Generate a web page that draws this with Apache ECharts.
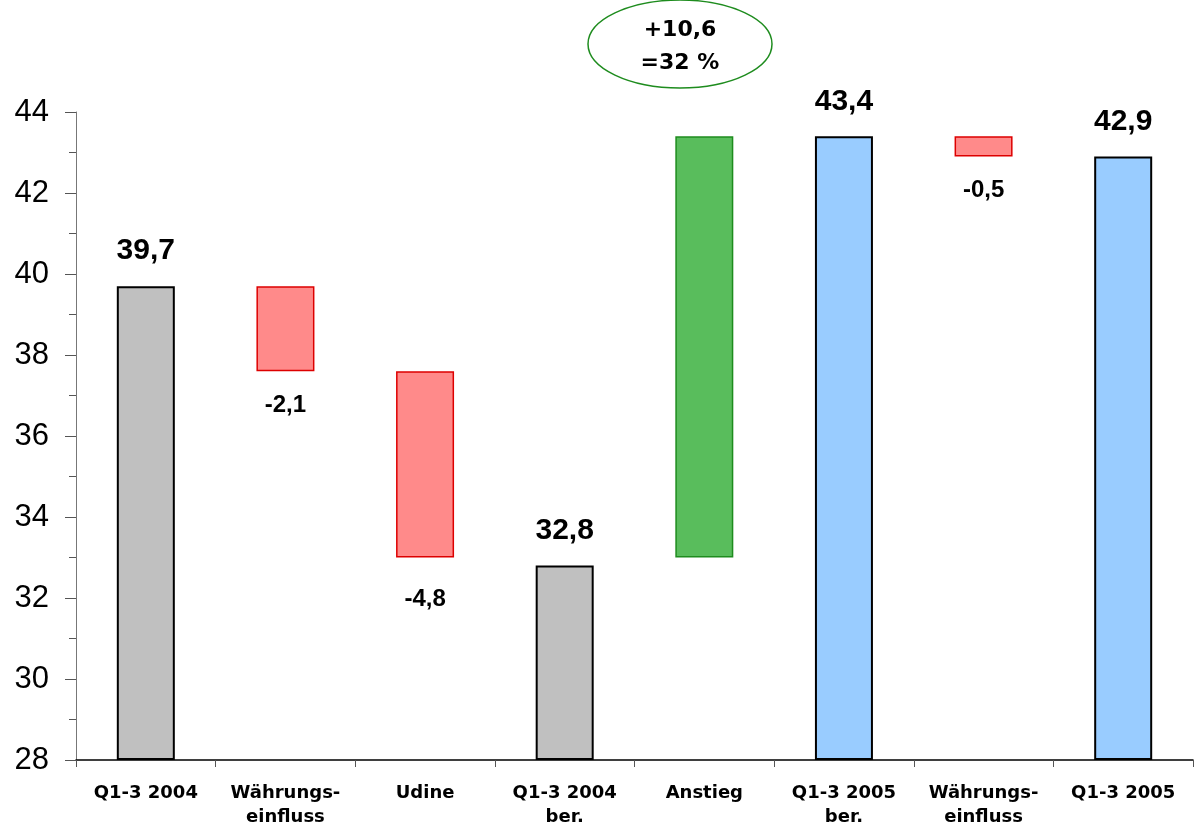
<!DOCTYPE html>
<html>
<head>
<meta charset="utf-8">
<script src="https://cdn.jsdelivr.net/npm/echarts@6/dist/echarts.min.js"></script>
<style>
  html, body { margin: 0; padding: 0; background: #fff; }
</style>
</head>
<body>
<div id="chart" style="width:1198px; height:832px;"></div>
<script>
// Kategorien und Werte (Mio. EUR)
const categories = ['Q1-3 2004', 'Währungs-\neinfluss', 'Udine', 'Q1-3 2004\nber.', 'Anstieg', 'Q1-3 2005\nber.', 'Währungs-\neinfluss', 'Q1-3 2005'];
const lows = [28, 37.6, 33.0, 28, 33.0, 28, 42.9, 28];
const highs = [39.7, 39.7, 37.6, 32.8, 43.4, 43.4, 43.4, 42.9];
const deltas = [null, -2.1, -4.8, null, 10.6, null, -0.5, null];
const valueLabels = ['39,7', '-2,1', '-4,8', '32,8', '', '43,4', '-0,5', '42,9'];
const kinds = ['total', 'minus', 'minus', 'total', 'plus', 'total2', 'minus', 'total2'];
const annotation = '+10,6\n=32 %';

const styles = {
    total:  { color: '#C0C0C0', borderColor: '#000000', borderWidth: 2 },
    total2: { color: '#99CCFF', borderColor: '#000000', borderWidth: 2 },
    minus:  { color: '#FF8A8A', borderColor: '#DD0000', borderWidth: 1.5 },
    plus:   { color: '#59BD5C', borderColor: '#1E8C1E', borderWidth: 1.5 }
};
const pxPerUnit = 648 / 16;

let myChart = echarts.init(document.getElementById('chart'));

let visible = highs.map((h, i) => {
    let k = kinds[i];
    let isTotal = k == 'total' || k == 'total2';
    // Minus-Beschriftung sitzt unter dem rechnerischen Endwert
    let gap = 0;
    if (!isTotal && deltas[i] != null) {
        gap = Math.max(0, lows[i] - (h + deltas[i])) * pxPerUnit;
    }
    return {
        value: +(h - lows[i]).toFixed(2),
        itemStyle: styles[k],
        label: {
            show: valueLabels[i] != '',
            position: isTotal ? 'top' : 'bottom',
            distance: isTotal ? 20 : 22 + gap,
            fontSize: isTotal ? 30 : 24,
            fontWeight: 'bold',
            fontFamily: '"Liberation Sans", Arial, sans-serif',
            color: '#000',
            formatter: () => valueLabels[i]
        }
    };
});

let option = {
    animation: false,
    grid: { left: 76, right: 5, top: 112, bottom: 72 },
    xAxis: {
        type: 'category',
        data: categories,
        axisLine: { lineStyle: { color: '#000', width: 1.5 } },
        axisTick: { show: true, length: 7, lineStyle: { color: '#555' } },
        axisLabel: {
            interval: 0,
            margin: 21,
            fontSize: 18,
            fontWeight: 'bold',
            lineHeight: 24,
            color: '#000',
            fontFamily: '"DejaVu Sans", sans-serif'
        }
    },
    yAxis: {
        type: 'value',
        min: 28,
        max: 44,
        interval: 2,
        axisLine: { show: true, lineStyle: { color: '#777', width: 1 } },
        axisTick: { show: true, length: 11, lineStyle: { color: '#555' } },
        minorTick: { show: true, splitNumber: 2, length: 7, lineStyle: { color: '#555' } },
        splitLine: { show: false },
        axisLabel: {
            margin: 27,
            fontSize: 31,
            color: '#000',
            fontFamily: '"Liberation Sans", Arial, sans-serif'
        }
    },
    series: [
        {
            name: 'base',
            type: 'bar',
            stack: 'wf',
            silent: true,
            barWidth: 58,
            itemStyle: { color: 'transparent', borderColor: 'transparent' },
            data: lows
        },
        {
            name: 'wert',
            type: 'bar',
            stack: 'wf',
            barWidth: 58,
            data: visible
        }
    ],
    graphic: [
        {
            type: 'ellipse',
            shape: { cx: 680, cy: 44, rx: 92, ry: 44 },
            style: { fill: 'rgba(0,0,0,0)', stroke: '#1E8C1E', lineWidth: 1.5 }
        },
        {
            type: 'text',
            x: 680,
            y: 47,
            style: {
                text: annotation,
                font: 'bold 22px "DejaVu Sans", sans-serif',
                fill: '#000',
                textAlign: 'center',
                textVerticalAlign: 'middle',
                align: 'center',
                verticalAlign: 'middle',
                lineHeight: 33
            }
        }
    ]
};
option && myChart.setOption(option);
</script>
</body>
</html>
